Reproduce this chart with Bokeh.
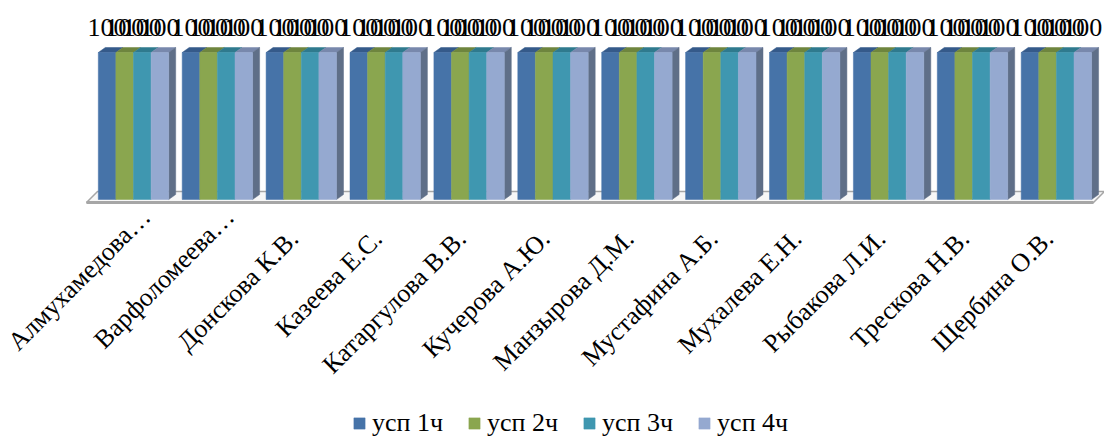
from bokeh.plotting import figure
from bokeh.models import Range1d, LinearAxis, FixedTicker, Legend, LegendItem
from bokeh.core.properties import value
from bokeh.embed import file_html
from bokeh.resources import INLINE

categories = ["Алмухамедова…", "Варфоломеева…", "Донскова К.В.", "Казеева Е.С.",
              "Катаргулова В.В.", "Кучерова А.Ю.", "Манзырова Д.М.", "Мустафина А.Б.",
              "Мухалева Е.Н.", "Рыбакова Л.И.", "Трескова Н.В.", "Щербина О.В."]
series_names = ["усп 1ч", "усп 2ч", "усп 3ч", "усп 4ч"]
usp_1 = [100] * 12
usp_2 = [100] * 12
usp_3 = [100] * 12
usp_4 = [100] * 12
series = [usp_1, usp_2, usp_3, usp_4]
front = ["#4673A8", "#8AA64F", "#3F97B0", "#95A9D0"]
top = ["#355A8A", "#6E853E", "#2F7A8E", "#7888AC"]
side = "#5F6F88"

W, H = 1104, 439
PX_GROUP = 83.9
PX_BAR = 17.6
px_x0 = 133.0
px_y0 = 199.0
px_y100 = 52.0
unit_y = (px_y0 - px_y100) / 100.0
xr = Range1d(-px_x0 / PX_GROUP, (W - px_x0) / PX_GROUP)
yr = Range1d(-(H - px_y0) / unit_y, px_y0 / unit_y)

p = figure(width=W, height=H, x_range=xr, y_range=yr, output_backend="svg",
           toolbar_location=None, min_border=0, outline_line_color=None,
           background_fill_color="white", border_fill_color="white")
p.grid.visible = False
p.axis.visible = False

bw = PX_BAR / PX_GROUP
dx = 7.0 / PX_GROUP
dy = 5.0 / unit_y

# floor
fl_left = -47.0 / PX_GROUP
fl_right = (1093 - 133) / PX_GROUP
fl_back = 8.0 / unit_y
fl_front = -3.0 / unit_y
fl_d = 11.0 / PX_GROUP
p.patch([fl_left, fl_left + fl_d, fl_right + fl_d, fl_right],
        [fl_front, fl_back, fl_back, fl_front],
        fill_color="#F7F7F7", line_color="#A6A6A6", line_width=1.5)
p.line([fl_left, fl_right], [fl_front, fl_front], line_color="#A6A6A6", line_width=3)

renderers = []
for k, vals in enumerate(series):
    off = (k - 1.5) * bw
    xs = [i + off for i in range(len(vals))]
    p.patches([[x - bw / 2, x - bw / 2 + dx, x + bw / 2 + dx, x + bw / 2] for x in xs],
              [[v, v + dy, v + dy, v] for v in vals],
              fill_color=top[k], line_color=top[k], line_width=0.5)
    if k == 3:
        p.patches([[x + bw / 2, x + bw / 2 + dx, x + bw / 2 + dx, x + bw / 2] for x in xs],
                  [[0, dy, v + dy, v] for x, v in zip(xs, vals)],
                  fill_color=side, line_color=side, line_width=0.5)
    r = p.vbar(x=xs, top=vals, bottom=0, width=bw, fill_color=front[k], line_color=front[k], line_width=0.5)
    renderers.append(r)
    p.text(x=xs, y=[v + 17 for v in vals], text=[str(v) for v in vals],
           text_font=value("Liberation Serif"), text_font_size="26px",
           text_color="#000000", text_align="center", text_baseline="middle")


def label_axis(indices, shift, standoff):
    ticks = [i + shift for i in indices]
    axis = LinearAxis(fixed_location=0,
                      ticker=FixedTicker(ticks=ticks),
                      major_label_overrides={t: categories[i] for t, i in zip(ticks, indices)},
                      major_label_orientation=0.785,
                      major_label_text_font="Liberation Serif",
                      major_label_text_font_size="26px",
                      major_label_text_color="#000000",
                      major_label_standoff=standoff,
                      axis_line_color=None, major_tick_line_color=None, minor_tick_line_color=None)
    p.add_layout(axis, "below")


label_axis([0, 1], 0.15, 7)
label_axis(list(range(2, 12)), -0.09, 29)

legend = Legend(items=[LegendItem(label=n, renderers=[r]) for n, r in zip(series_names, renderers)],
                orientation="horizontal", location=(352, 1),
                label_text_font="Liberation Serif", label_text_font_size="26px",
                label_text_color="#000000", glyph_width=14, glyph_height=14,
                spacing=24, label_standoff=6, padding=0, margin=0,
                border_line_color=None, background_fill_alpha=0)
p.add_layout(legend, "center")

open("out.html", "w").write(file_html(p, INLINE))
